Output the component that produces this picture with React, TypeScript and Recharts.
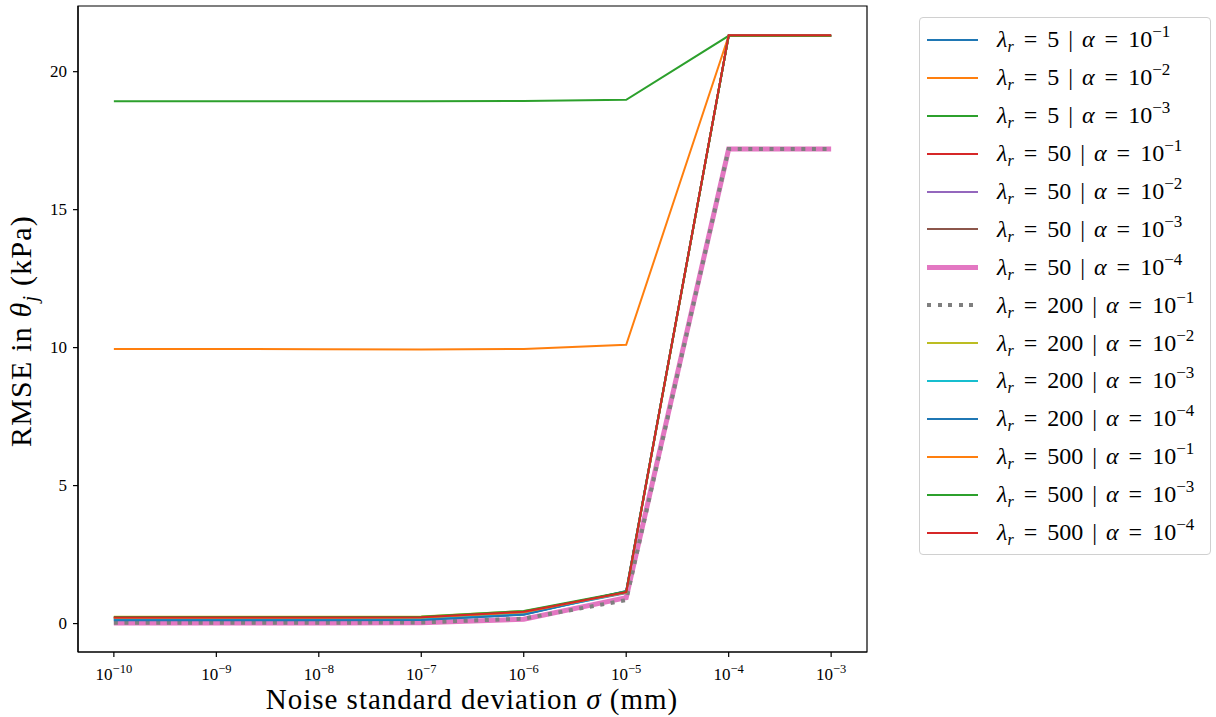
import React from 'react';
import { LineChart, Line, XAxis, YAxis, ReferenceArea } from 'recharts';

// log10 of noise standard deviation (mm)
const exponents = [-10, -9, -8, -7, -6, -5, -4, -3];
const xTicks = [-10, -9, -8, -7, -6, -5, -4, -3];
const yTicks = [0, 5, 10, 15, 20];

const lambdaLabels = ['5', '5', '5', '50', '50', '50', '50', '200', '200', '200', '200', '500', '500', '500'];
const alphaExps = ['1', '2', '3', '1', '2', '3', '4', '1', '2', '3', '4', '1', '3', '4'];
const colors = ['#1f77b4', '#ff7f0e', '#2ca02c', '#d62728', '#9467bd', '#8c564b', '#e377c2', '#7f7f7f', '#bcbd22', '#17becf', '#1f77b4', '#ff7f0e', '#2ca02c', '#d62728'];

const s0 = [0.13, 0.13, 0.13, 0.14, 0.33, 1.18, 21.3, 21.3];
const s1 = [9.95, 9.95, 9.94, 9.93, 9.95, 10.1, 21.3, 21.3];
const s2 = [18.93, 18.93, 18.93, 18.93, 18.94, 18.98, 21.3, 21.3];
const s3 = [0.22, 0.22, 0.22, 0.23, 0.42, 1.15, 21.3, 21.3];
const s4 = [0.18, 0.18, 0.18, 0.19, 0.38, 1.1, 21.3, 21.3];
const s5 = [0.2, 0.2, 0.2, 0.21, 0.4, 1.12, 21.3, 21.3];
const s6 = [0.02, 0.02, 0.02, 0.03, 0.16, 0.94, 17.2, 17.2];
const s7 = [0.03, 0.03, 0.03, 0.04, 0.18, 0.85, 17.2, 17.2];
const s8 = [0.25, 0.25, 0.25, 0.26, 0.45, 1.12, 21.3, 21.3];
const s9 = [0.16, 0.16, 0.16, 0.17, 0.35, 1.13, 21.3, 21.3];
const s10 = [0.12, 0.12, 0.12, 0.13, 0.32, 1.17, 21.3, 21.3];
const s11 = [0.21, 0.21, 0.21, 0.22, 0.41, 1.14, 21.3, 21.3];
const s12 = [0.24, 0.24, 0.24, 0.25, 0.46, 1.16, 21.3, 21.3];
const s13 = [0.22, 0.22, 0.22, 0.23, 0.43, 1.14, 21.32, 21.32];

const allSeries = [s0, s1, s2, s3, s4, s5, s6, s7, s8, s9, s10, s11, s12, s13];

const X_DOMAIN: [number, number] = [-10.35, -2.65];
const Y_DOMAIN: [number, number] = [-1.03, 22.38];

const data = exponents.map((e, i) => {
  const row: Record<string, number> = { x: e };
  allSeries.forEach((s, k) => {
    row['s' + k] = s[i];
  });
  return row;
});

const FONT = '"Liberation Serif", "DejaVu Serif", serif';

const strokeWidthFor = (k: number) => (k === 6 ? 5 : k === 7 ? 4 : 2);

const XTick = (props: any) => {
  const { x, y, payload } = props;
  return (
    <text x={x} y={y + 21} textAnchor="middle" fontFamily={FONT} fontSize={17} fill="#000">
      <tspan>10</tspan>
      <tspan fontSize={12.5} dy={-7}>{'\u2212' + Math.abs(payload.value)}</tspan>
    </text>
  );
};

const YTick = (props: any) => {
  const { x, y, payload } = props;
  return (
    <text x={x - 4} y={y + 5} textAnchor="end" fontFamily={FONT} fontSize={17} fill="#000">
      {payload.value}
    </text>
  );
};

const YLabel = () => (
  <text
    x={0}
    y={0}
    transform="translate(31, 331) rotate(-90)"
    textAnchor="middle"
    fontFamily={FONT}
    fontSize={30}
    letterSpacing={1.2}
    fill="#000"
  >
    <tspan>RMSE in </tspan>
    <tspan fontStyle="italic">θ</tspan>
    <tspan fontStyle="italic" fontSize={20} dy={6}>j</tspan>
    <tspan dy={-6}> (kPa)</tspan>
  </text>
);

const XLabel = () => (
  <text x={472} y={709} textAnchor="middle" fontFamily={FONT} fontSize={29} letterSpacing={1} fill="#000">
    <tspan>Noise standard deviation </tspan>
    <tspan fontStyle="italic">σ</tspan>
    <tspan> (mm)</tspan>
  </text>
);

const gap = (w: number) => <span style={{ display: 'inline-block', width: w }} />;

const LegendBox = () => (
  <div
    style={{
      position: 'absolute',
      left: 919,
      top: 17,
      width: 292,
      height: 538,
      border: '1px solid #d0d0d0',
      borderRadius: 4,
      background: '#fff',
      boxSizing: 'border-box',
      paddingTop: 3,
      fontFamily: FONT,
      fontSize: 24,
      color: '#000',
    }}
  >
    {lambdaLabels.map((lam, k) => (
      <div key={k} style={{ height: 37.9, display: 'flex', alignItems: 'center', whiteSpace: 'nowrap' }}>
        <div style={{ width: 51, marginLeft: 7, marginRight: 19, height: 0, position: 'relative' }}>
          {k === 7 ? (
            <div
              style={{
                position: 'absolute',
                left: 0,
                top: -2,
                width: 51,
                height: 4,
                backgroundImage: 'repeating-linear-gradient(to right, #7f7f7f 0 4px, transparent 4px 10.6px)',
              }}
            />
          ) : (
            <div
              style={{
                position: 'absolute',
                left: 0,
                top: -strokeWidthFor(k) / 2,
                width: 51,
                height: strokeWidthFor(k),
                background: colors[k],
              }}
            />
          )}
        </div>
        <span style={{ display: 'flex', alignItems: 'baseline' }}>
          <i>λ</i>
          <span style={{ fontSize: 16, fontStyle: 'italic', position: 'relative', top: 5 }}>r</span>
          {gap(10)}
          <span>=</span>
          {gap(10)}
          <span>{lam}</span>
          {gap(9)}
          <span>|</span>
          {gap(9)}
          <i>α</i>
          {gap(10)}
          <span>=</span>
          {gap(10)}
          <span>10</span>
          <span style={{ fontSize: 17, position: 'relative', top: -10 }}>{'\u2212' + alphaExps[k]}</span>
        </span>
      </div>
    ))}
  </div>
);

export default function App() {
  return (
    <div style={{ position: 'absolute', left: 0, top: 0, width: 1216, height: 717, background: '#fff' }}>
      <LineChart
        width={1216}
        height={717}
        data={data}
        margin={{ top: 6, right: 349, bottom: 15, left: 18 }}
      >
        <XAxis
          dataKey="x"
          type="number"
          domain={X_DOMAIN}
          ticks={xTicks}
          allowDataOverflow
          height={50}
          tickSize={5}
          tick={<XTick />}
          axisLine={{ stroke: '#000', strokeWidth: 1.2 }}
          tickLine={{ stroke: '#000', strokeWidth: 1.2 }}
          label={{ content: () => <XLabel /> }}
        />
        <YAxis
          type="number"
          domain={Y_DOMAIN}
          ticks={yTicks}
          allowDataOverflow
          width={60}
          tickSize={5}
          tick={<YTick />}
          axisLine={{ stroke: '#000', strokeWidth: 1.2 }}
          tickLine={{ stroke: '#000', strokeWidth: 1.2 }}
          label={{ content: () => <YLabel /> }}
        />
        <ReferenceArea
          x1={X_DOMAIN[0]}
          x2={X_DOMAIN[1]}
          y1={Y_DOMAIN[0]}
          y2={Y_DOMAIN[1]}
          fill="none"
          fillOpacity={0}
          stroke="#000"
          strokeWidth={1.2}
          ifOverflow="visible"
        />
        {allSeries.map((_, k) => (
          <Line
            key={k}
            dataKey={'s' + k}
            stroke={colors[k]}
            strokeWidth={strokeWidthFor(k)}
            strokeDasharray={k === 7 ? '4 6.6' : undefined}
            strokeLinecap="butt"
            dot={false}
            activeDot={false}
            isAnimationActive={false}
          />
        ))}
      </LineChart>
      <LegendBox />
    </div>
  );
}
